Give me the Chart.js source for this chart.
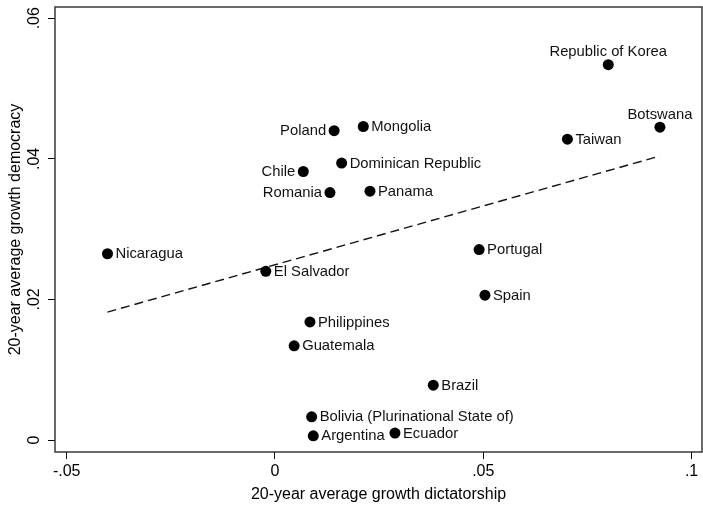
<!DOCTYPE html>
<html>
<head>
<meta charset="utf-8">
<script src="https://cdn.jsdelivr.net/npm/chart.js@4/dist/chart.umd.min.js"></script>
<style>
  html, body { margin: 0; padding: 0; background: #fff; }
  #c { display: block; }
</style>
</head>
<body>
<canvas id="c" width="703" height="505"></canvas>
<script>
// Country-level 20-year average growth under each regime type
const countries = [
  "Republic of Korea", "Botswana", "Taiwan", "Poland", "Mongolia",
  "Dominican Republic", "Chile", "Romania", "Panama", "Nicaragua",
  "El Salvador", "Portugal", "Spain", "Philippines", "Guatemala",
  "Brazil", "Bolivia (Plurinational State of)", "Argentina", "Ecuador"
];
const growthDictatorship = [
  0.0800, 0.0924, 0.0702, 0.0142, 0.0212,
  0.0160, 0.0068, 0.0132, 0.0228, -0.0402,
  -0.0022, 0.0490, 0.0504, 0.0084, 0.0046,
  0.0380, 0.0088, 0.0092, 0.0288
];
const growthDemocracy = [
  0.0534, 0.0445, 0.0428, 0.0440, 0.0446,
  0.0394, 0.0382, 0.0352, 0.0354, 0.0265,
  0.0240, 0.0271, 0.0206, 0.0168, 0.0134,
  0.0078, 0.0033, 0.0006, 0.0010
];

// Fitted linear trend, evaluated at the ends of the x range
const fitX = [-0.0402, 0.0924];
const fitY = [0.0182, 0.0404];

// Axis ticks
const xTicks = [-0.05, 0, 0.05, 0.1];
const yTicks = [0, 0.02, 0.04, 0.06];

// Where each marker label sits relative to its dot
const labelSide = {
  "Republic of Korea": "top",
  "Botswana": "top",
  "Poland": "left",
  "Chile": "left",
  "Romania": "left"
};

const FONT = "'Liberation Sans', Arial, Helvetica, sans-serif";

function fmt(v) {
  if (Math.abs(v) < 1e-12) return "0";
  let s = String(+v.toFixed(4));
  return s.replace(/^(-?)0\./, "$1.");
}

const frameAndLabels = {
  id: "frameAndLabels",
  afterDatasetsDraw(chart) {
    const ctx = chart.ctx;
    const a = chart.chartArea;
    const xs = chart.scales.x, ys = chart.scales.y;
    ctx.save();
    // plot frame
    ctx.strokeStyle = "#3a3a3a";
    ctx.lineWidth = 1.5;
    ctx.strokeRect(a.left, a.top, a.right - a.left, a.bottom - a.top);

    // marker labels
    ctx.fillStyle = "#111";
    ctx.font = "14.8px " + FONT;
    countries.forEach((name, i) => {
      const px = xs.getPixelForValue(growthDictatorship[i]);
      const py = ys.getPixelForValue(growthDemocracy[i]);
      const side = labelSide[name] || "right";
      if (side === "top") {
        ctx.textAlign = "center";
        ctx.textBaseline = "middle";
        ctx.fillText(name, px, py - 12.5);
      } else if (side === "left") {
        ctx.textAlign = "right";
        ctx.textBaseline = "middle";
        ctx.fillText(name, px - 8, py + 0.5);
      } else {
        ctx.textAlign = "left";
        ctx.textBaseline = "middle";
        ctx.fillText(name, px + 8, py + 0.5);
      }
    });

    // vertical y tick labels
    ctx.fillStyle = "#000";
    ctx.font = "16px " + FONT;
    ctx.textAlign = "center";
    ctx.textBaseline = "middle";
    yTicks.forEach(v => {
      const py = ys.getPixelForValue(v);
      ctx.save();
      ctx.translate(35, py);
      ctx.rotate(-Math.PI / 2);
      ctx.fillText(fmt(v), 0, 0);
      ctx.restore();
    });
    ctx.restore();
  }
};

new Chart(document.getElementById("c"), {
  type: "scatter",
  data: {
    datasets: [
      {
        label: "Countries",
        data: countries.map((c, i) => ({ x: growthDictatorship[i], y: growthDemocracy[i] })),
        backgroundColor: "#000",
        borderWidth: 0,
        pointRadius: 5.5,
        pointHoverRadius: 5.5
      },
      {
        label: "Fitted values",
        type: "line",
        data: fitX.map((x, i) => ({ x: x, y: fitY[i] })),
        borderColor: "#111",
        borderWidth: 1.4,
        borderDash: [9, 5],
        pointRadius: 0,
        fill: false,
        showLine: true
      }
    ]
  },
  options: {
    responsive: false,
    animation: false,
    events: [],
    layout: { autoPadding: false, padding: { top: 7, right: 1, left: 0, bottom: 0 } },
    plugins: {
      legend: { display: false },
      tooltip: { enabled: false }
    },
    scales: {
      x: {
        type: "linear",
        min: -0.0528,
        max: 0.1025,
        afterBuildTicks: s => { s.ticks = xTicks.map(v => ({ value: v })); },
        afterFit: s => { s.height = 53; s.paddingLeft = 0; s.paddingRight = 0; },
        border: { display: false },
        grid: { drawOnChartArea: false, drawTicks: true, tickLength: 7, color: "#000", lineWidth: 1 },
        ticks: {
          color: "#000",
          font: { family: FONT, size: 16 },
          padding: 3,
          maxRotation: 0,
          autoSkip: false,
          callback: v => fmt(v)
        },
        title: {
          display: true,
          text: "20-year average growth dictatorship",
          color: "#000",
          font: { family: FONT, size: 16 },
          padding: { top: 0, bottom: 1 }
        }
      },
      y: {
        type: "linear",
        min: -0.0017,
        max: 0.0616,
        afterBuildTicks: s => { s.ticks = yTicks.map(v => ({ value: v })); },
        afterFit: s => { s.width = 55; s.paddingTop = 0; s.paddingBottom = 0; },
        border: { display: false },
        grid: { drawOnChartArea: false, drawTicks: true, tickLength: 7, color: "#000", lineWidth: 1 },
        ticks: { display: false },
        title: {
          display: true,
          text: "20-year average growth democracy",
          color: "#000",
          font: { family: FONT, size: 16 },
          padding: { top: 6, bottom: 0 }
        }
      }
    }
  },
  plugins: [frameAndLabels]
});
</script>
</body>
</html>
